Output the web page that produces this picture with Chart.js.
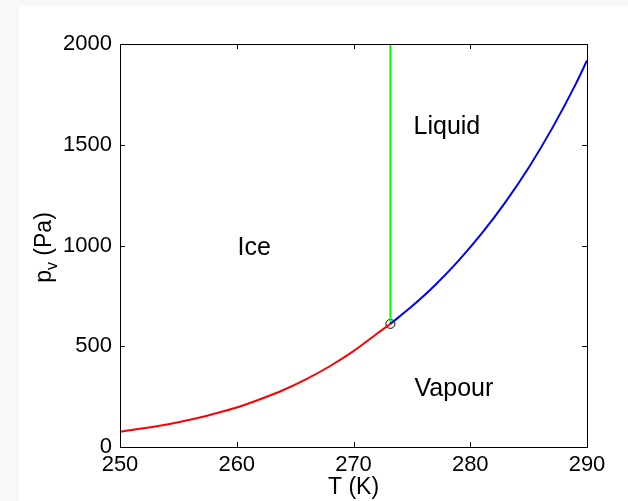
<!DOCTYPE html>
<html>
<head>
<meta charset="utf-8">
<script src="https://cdn.jsdelivr.net/npm/chart.js@4"></script>
<style>
  html, body { margin: 0; padding: 0; background: #f8f8f8; }
  #wrap { position: absolute; left: 19px; top: 6px; width: 609px; height: 495px; background: #fff; }
</style>
</head>
<body>
<div id="wrap"><canvas id="phaseChart" width="609" height="495"></canvas></div>
<script>
// saturation vapour pressure over ice (K, Pa)
var iceT = [250, 252, 254, 256, 258, 260, 262, 264, 266, 268, 270, 272, 273.16];
var iceP = [76, 93, 112, 135, 164, 196, 237, 283, 338, 402, 476, 562, 611];
// over liquid water
var liqT = [273.16, 275, 277, 279, 281, 283, 285, 287, 289, 290];
var liqP = [611, 698, 804, 925, 1061, 1214, 1386, 1580, 1797, 1918];
// melting line
var meltT = [273.16, 273.16];
var meltP = [611, 2000];
var tripleT = [273.16];
var tripleP = [611];

var xTicks = [250, 260, 270, 280, 290];
var yTicks = [0, 500, 1000, 1500, 2000];

var regionNames = ["Ice", "Liquid", "Vapour"];
var regionT = [261.5, 278.0, 278.6];
var regionP = [985, 1590, 287];

function pts(xs, ys) {
    return xs.map(function (x, i) { return { x: x, y: ys[i] } });
}

var FONT = '"Liberation Sans", Arial, sans-serif';

// box, inward ticks, axis titles and region labels (matlab look)
var decor = {
    id: 'decor',
    afterDatasetsDraw: function (chart) {
        var ctx = chart.ctx, a = chart.chartArea;
        var xs = chart.scales.x, ys = chart.scales.y;
        ctx.save();
        ctx.strokeStyle = '#000';
        ctx.lineWidth = 1;
        ctx.beginPath();
        xTicks.forEach(function (v) {
            var px = Math.round(xs.getPixelForValue(v)) + 0.5;
            ctx.moveTo(px, a.bottom); ctx.lineTo(px, a.bottom - 5);
            ctx.moveTo(px, a.top); ctx.lineTo(px, a.top + 5);
        });
        yTicks.forEach(function (v) {
            var py = Math.round(ys.getPixelForValue(v)) + 0.5;
            ctx.moveTo(a.left, py); ctx.lineTo(a.left + 5, py);
            ctx.moveTo(a.right, py); ctx.lineTo(a.right - 5, py);
        });
        ctx.stroke();
        ctx.strokeRect(Math.round(a.left) + 0.5, Math.round(a.top) + 0.5,
            Math.round(a.right - a.left), Math.round(a.bottom - a.top));

        ctx.fillStyle = '#000';
        ctx.font = '25px ' + FONT;
        ctx.textAlign = 'center';
        ctx.textBaseline = 'middle';
        regionNames.forEach(function (n, i) {
            ctx.fillText(n, xs.getPixelForValue(regionT[i]), ys.getPixelForValue(regionP[i]));
        });

        // x title
        ctx.font = '23px ' + FONT;
        ctx.fillText('T (K)', (a.left + a.right) / 2, 482);

        // y title with subscript
        ctx.translate(24, (a.top + a.bottom) / 2 + 2);
        ctx.rotate(-Math.PI / 2);
        ctx.textAlign = 'left';
        ctx.textBaseline = 'alphabetic';
        var w1 = ctx.measureText('p').width;
        ctx.font = '16px ' + FONT;
        var w2 = ctx.measureText('v').width;
        ctx.font = '23px ' + FONT;
        var w3 = ctx.measureText(' (Pa)').width;
        var x0 = -(w1 + w2 + w3) / 2;
        ctx.fillText('p', x0, 8);
        ctx.font = '16px ' + FONT;
        ctx.fillText('v', x0 + w1, 14);
        ctx.font = '23px ' + FONT;
        ctx.fillText(' (Pa)', x0 + w1 + w2, 8);
        ctx.restore();
    }
};

function plain(v) { return String(v) }

var ctx = document.getElementById('phaseChart').getContext('2d');
var myChart = new Chart(ctx, {
    type: 'scatter',
    data: {
        datasets: [{
            data: pts(iceT, iceP),
            showLine: true,
            borderColor: 'rgb(255, 0, 0)',
            borderWidth: 2,
            pointRadius: 0,
            cubicInterpolationMode: 'monotone'
        }, {
            data: pts(liqT, liqP),
            showLine: true,
            borderColor: 'rgb(0, 0, 255)',
            borderWidth: 2,
            pointRadius: 0,
            cubicInterpolationMode: 'monotone'
        }, {
            data: pts(meltT, meltP),
            showLine: true,
            borderColor: 'rgb(0, 255, 0)',
            borderWidth: 2,
            pointRadius: 0
        }, {
            data: pts(tripleT, tripleP),
            borderColor: '#000',
            backgroundColor: 'rgba(0,0,0,0)',
            borderWidth: 1,
            pointRadius: 4.5
        }]
    },
    options: {
        responsive: false,
        animation: false,
        events: [],
        layout: { padding: { top: 38, right: 41, left: 0, bottom: 0 } },
        plugins: { legend: { display: false }, tooltip: { enabled: false } },
        scales: {
            x: {
                type: 'linear',
                min: 250, max: 290,
                afterBuildTicks: function (s) { s.ticks = xTicks.map(function (v) { return { value: v } }) },
                afterFit: function (s) { s.height = 54 },
                grid: { display: false, drawTicks: false },
                border: { display: false },
                ticks: { color: '#000', font: { size: 22, family: FONT }, padding: 5, maxRotation: 0, callback: plain }
            },
            y: {
                type: 'linear',
                min: 0, max: 2000,
                afterBuildTicks: function (s) { s.ticks = yTicks.map(function (v) { return { value: v } }) },
                afterFit: function (s) { s.width = 101 },
                grid: { display: false, drawTicks: false },
                border: { display: false },
                ticks: { color: '#000', font: { size: 22, family: FONT }, padding: 8, callback: plain }
            }
        }
    },
    plugins: [decor]
});
</script>
</body>
</html>
